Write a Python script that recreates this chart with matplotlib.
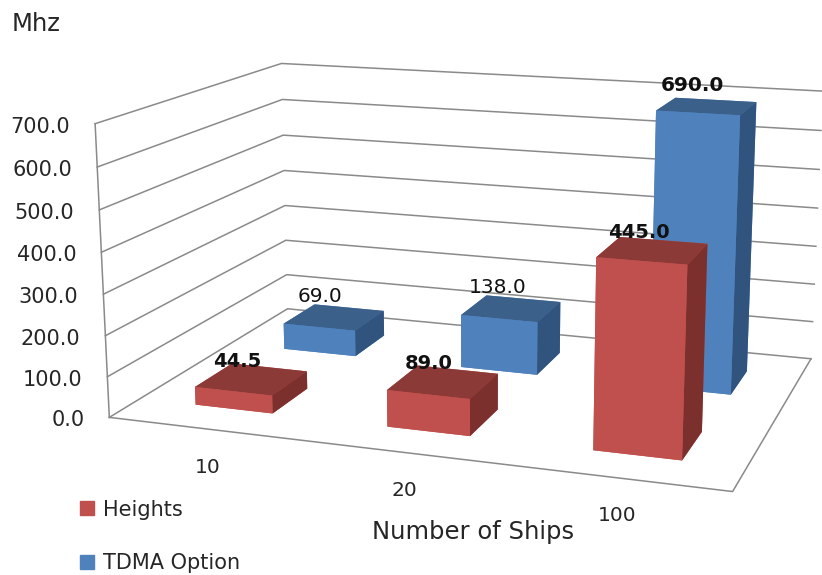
import matplotlib
matplotlib.use("Agg")
import matplotlib.pyplot as plt
from matplotlib.patches import Patch
from mpl_toolkits.mplot3d import proj3d

plt.rcParams["font.family"] = ["DejaVu Sans"]

categories = ["10", "20", "100"]
heights = [44.5, 89.0, 445.0]
tdma = [69.0, 138.0, 690.0]
z_ticks = [0, 100, 200, 300, 400, 500, 600, 700]

W, H = 822, 575
GRID = "#8a8a8a"
TEXT = "#262626"
LABEL = "#111111"
RED = ["#c0504d", "#8c3a38", "#c0504d", "#c0504d", "#c0504d", "#7b302e"]
BLUE = ["#4f81bd", "#3b6089", "#4f81bd", "#4f81bd", "#4f81bd", "#31547e"]
BAR_W = 0.41
BAR_D = 0.4
RED_X = 0.505
BLUE_X = 0.52
RED_Y = 0.3
BLUE_Y = 1.28

fig = plt.figure(figsize=(W / 100, H / 100), dpi=100)
ax = fig.add_axes([0.071, 0.0532, 1, 1], projection="3d", proj_type="persp", focal_length=0.6129)
ax.view_init(elev=13.7714, azim=-71.029)
ax.set_box_aspect((3, 2.034, 1.4151), zoom=1.3382)
ax.computed_zorder = False
ax.set_axis_off()

# walls and floor outline
for z in z_ticks:
    ax.plot([0, 0, 3], [0, 2, 2], [z, z, z], color=GRID, lw=1.1, zorder=1, clip_on=False)
ax.plot([0, 3, 3], [0, 0, 2], [0, 0, 0], color=GRID, lw=1.1, zorder=1, clip_on=False)
ax.plot([0, 0], [0, 0], [0, 700], color=GRID, lw=1.1, zorder=1, clip_on=False)

# back row first, then the front row on top of it
for i, v in enumerate(tdma):
    ax.bar3d(i + BLUE_X - BAR_W / 2, BLUE_Y, 0, BAR_W, BAR_D, v, color=BLUE, shade=False, zorder=2 + i)
for i, v in enumerate(heights):
    ax.bar3d(i + RED_X - BAR_W / 2, RED_Y, 0, BAR_W, BAR_D, v, color=RED, shade=False, zorder=6 + i)

ax.set_xlim(0, 3)
ax.set_ylim(0, 2)
ax.set_zlim(0, 700)
fig.canvas.draw()
M = ax.get_proj()


def to_px(x, y, z):
    X, Y, _ = proj3d.proj_transform(x, y, z, M)
    return ax.transData.transform((X, Y))


def put(px, py, s, **kw):
    # px, py in figure pixels from the bottom left
    fig.text(px / W, py / H, s, **kw)


for z in z_ticks:
    px, py = to_px(0, 0, z)
    put(px - 25, py - 3, f"{z:.1f}", ha="right", va="center", fontsize=15, color=TEXT)

for i, v in enumerate(tdma):
    px, py = to_px(i + BLUE_X, BLUE_Y + BAR_D / 2, v)
    put(px - 14, py + 21, f"{v:.1f}", ha="center", va="center", fontsize=14.5, color=LABEL,
        fontweight="bold" if v > 500 else "normal")
for i, v in enumerate(heights):
    px, py = to_px(i + RED_X, RED_Y + BAR_D / 2, v)
    put(px - 14, py + 18, f"{v:.1f}", ha="center", va="center", fontsize=14, color=LABEL, fontweight="bold")
for i, c in enumerate(categories):
    px, py = to_px(i + 0.5, 0.15, 0)
    put(px - 11, py - 49, c, ha="center", va="center", fontsize=14.5, color=TEXT)

put(36, H - 24, "Mhz", ha="center", va="center", fontsize=17.5, color=TEXT)
put(473, H - 532, "Number of Ships", ha="center", va="center", fontsize=17.5, color=TEXT)

handles = [Patch(color=RED[0]), Patch(color=BLUE[0])]
fig.legend(handles, ["Heights", "TDMA Option"], loc="lower left", bbox_to_anchor=(80 / W, 2 / H),
           frameon=False, fontsize=15, labelcolor=TEXT, handlelength=0.67, handleheight=0.67,
           handletextpad=0.43, labelspacing=1.6, borderpad=0, borderaxespad=0)

fig.savefig("out.png", dpi=100)
